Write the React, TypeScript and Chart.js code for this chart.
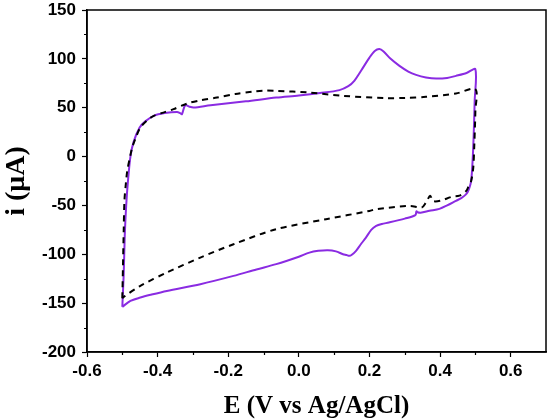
import { useEffect, useRef } from 'react';
import { Chart, registerables } from 'chart.js';

Chart.register(...registerables);

// Cyclic voltammogram: modified electrode (solid) and bare electrode (dashed)
const modifiedE = [
  -0.5, -0.496, -0.493, -0.489, -0.484, -0.477, -0.468, -0.451, -0.435, -0.411,
  -0.38, -0.345, -0.336, -0.331, -0.322, -0.31, -0.298, -0.25, -0.15, -0.064,
  0.0, 0.06, 0.115, 0.14, 0.157, 0.18, 0.2, 0.215, 0.228, 0.24,
  0.26, 0.285, 0.31, 0.332, 0.36, 0.389, 0.42, 0.445, 0.475, 0.5,
  0.498, 0.495, 0.492, 0.488, 0.482, 0.474, 0.46, 0.445, 0.42, 0.398,
  0.37, 0.345, 0.336, 0.333, 0.33, 0.3, 0.255, 0.235, 0.219, 0.205,
  0.19, 0.175, 0.162, 0.15, 0.143, 0.135, 0.125, 0.105, 0.082, 0.055,
  0.03, 0.0, -0.064, -0.12, -0.185, -0.279, -0.374, -0.42, -0.449, -0.477, -0.5,
];
const modifiedI = [
  -153.8, -120, -80, -50, -25, 0, 15, 29.7, 36, 41.7,
  44.5, 45.7, 44.5, 43.4, 52.6, 51, 50.2, 52.5, 56.5, 60.4,
  62.5, 65, 68, 72, 77.5, 90, 101.3, 108, 110, 107.5,
  100, 92.8, 87, 83.6, 81, 79.8, 80.5, 82.6, 85.5, 89.4,
  57, 20, -5, -24.9, -33, -38.5, -42.5, -45.3, -50, -53.5,
  -55.5, -57.5, -57, -56, -60, -63.5, -67.5, -69, -71, -75,
  -82.9, -90, -96.5, -100.5, -101.6, -100.8, -99.9, -97, -95.8, -96.5,
  -98.3, -102.5, -110.1, -115.5, -122.1, -130.6, -137.5, -141.5, -144.3, -147.7, -153.8,
];

const bareE = [
  -0.5, -0.498, -0.496, -0.494, -0.49, -0.486, -0.479, -0.472, -0.46, -0.449,
  -0.43, -0.411, -0.38, -0.355, -0.317, -0.28, -0.232, -0.18, -0.13, -0.1,
  -0.064, 0.03, 0.125, 0.247, 0.3, 0.36, 0.445, 0.5,
  0.5, 0.497, 0.494, 0.488, 0.48, 0.474, 0.455, 0.433, 0.4, 0.38,
  0.372, 0.36, 0.348, 0.315, 0.219, 0.2, 0.077, -0.064, -0.185, -0.279,
  -0.374, -0.449, -0.496, -0.5,
];
const bareI = [
  -145, -110, -75, -45.3, -28, -14.6, -2, 9.2, 21, 29.7,
  37, 41.7, 45.5, 48.5, 54.2, 57.5, 60.4, 64, 66.5, 67.5,
  67.2, 65.5, 62.1, 59.8, 60, 61.1, 64.5, 69,
  46.8, 12.7, -11.3, -24.9, -31, -35.1, -40, -41.2, -45.3, -45.5,
  -40.2, -47, -52.2, -50.5, -53.8, -55.6, -64.1, -74.3, -89.7, -103.4,
  -118.7, -132.3, -143.6, -145,
];

const xMin = -0.6;
const xMax = 0.7;
const xStep = 0.1;
const yMin = -200;
const yMax = 150;
const yStep = 25;

const toPoints = (xs: number[], ys: number[]) => xs.map((x, i) => ({ x, y: ys[i] }));

const isMajorX = (v: number) => Math.round(v * 10) % 2 === 0 && Math.round(v * 10) <= 6;
const isMajorY = (v: number) => Math.round(v) % 50 === 0;

// Closed plot frame plus short minor tick marks
const framePlugin = {
  id: 'frame',
  afterDraw(chart: any) {
    const { ctx, chartArea, scales } = chart;
    ctx.save();
    ctx.strokeStyle = '#000';
    ctx.lineWidth = 1.5;
    ctx.strokeRect(chartArea.left, chartArea.top, chartArea.right - chartArea.left, chartArea.bottom - chartArea.top);
    ctx.lineWidth = 1.2;
    ctx.beginPath();
    scales.x.ticks.forEach((t: any) => {
      if (!isMajorX(t.value) && t.value < xMax - 0.05) {
        const px = Math.round(scales.x.getPixelForValue(t.value)) + 0.5;
        ctx.moveTo(px, chartArea.bottom);
        ctx.lineTo(px, chartArea.bottom + 3);
      }
    });
    scales.y.ticks.forEach((t: any) => {
      if (!isMajorY(t.value)) {
        const py = Math.round(scales.y.getPixelForValue(t.value)) + 0.5;
        ctx.moveTo(chartArea.left, py);
        ctx.lineTo(chartArea.left - 3, py);
      }
    });
    ctx.stroke();
    ctx.restore();
  },
};

export default function App() {
  const canvasRef = useRef<HTMLCanvasElement | null>(null);

  useEffect(() => {
    const canvas = canvasRef.current;
    if (!canvas) return;
    const tickFont = { family: '"Liberation Sans", Arial, sans-serif', size: 17, weight: 'bold' as const };
    const chart = new Chart(canvas, {
      type: 'scatter',
      data: {
        datasets: [
          {
            data: toPoints(bareE, bareI),
            showLine: true,
            borderColor: '#000000',
            borderWidth: 2,
            borderDash: [6, 5],
            pointRadius: 0,
            tension: 0.3,
            fill: false,
          },
          {
            data: toPoints(modifiedE, modifiedI),
            showLine: true,
            borderColor: '#8A2BE2',
            borderWidth: 2,
            pointRadius: 0,
            tension: 0.3,
            fill: false,
          },
        ],
      },
      options: {
        responsive: false,
        animation: false,
        devicePixelRatio: 1,
        layout: { padding: { top: 10, right: 6, bottom: 0, left: 0 } },
        plugins: { legend: { display: false }, tooltip: { enabled: false } },
        scales: {
          x: {
            type: 'linear',
            min: xMin,
            max: xMax,
            afterFit: (scale: any) => {
              scale.height = 68;
              scale.paddingLeft = 0;
              scale.paddingRight = 0;
            },
            border: { display: true, color: '#000', width: 1.5 },
            grid: {
              drawOnChartArea: false,
              drawTicks: true,
              tickLength: 5,
              tickWidth: 1.2,
              tickColor: (ctx: any) => (ctx.tick && isMajorX(ctx.tick.value) ? '#000' : 'rgba(0,0,0,0)'),
            },
            ticks: {
              stepSize: xStep,
              autoSkip: false,
              maxRotation: 0,
              padding: 4,
              color: '#000',
              font: tickFont,
              callback: (v: any) => (isMajorX(Number(v)) ? Number(v).toFixed(1) : ''),
            },
            title: {
              display: true,
              text: 'E (V vs Ag/AgCl)',
              color: '#000',
              padding: 0,
              font: { family: '"Liberation Serif", "Times New Roman", serif', size: 25, weight: 'bold', lineHeight: 1.08 },
            },
          },
          y: {
            type: 'linear',
            min: yMin,
            max: yMax,
            afterFit: (scale: any) => {
              scale.width = 87;
              scale.paddingTop = 0;
              scale.paddingBottom = 0;
            },
            border: { display: true, color: '#000', width: 1.5 },
            grid: {
              drawOnChartArea: false,
              drawTicks: true,
              tickLength: 5,
              tickWidth: 1.2,
              tickColor: (ctx: any) => (ctx.tick && isMajorY(ctx.tick.value) ? '#000' : 'rgba(0,0,0,0)'),
            },
            ticks: {
              stepSize: yStep,
              autoSkip: false,
              padding: 6,
              color: '#000',
              font: tickFont,
              callback: (v: any) => (isMajorY(Number(v)) ? String(Math.round(Number(v))) : ''),
            },
            title: {
              display: true,
              text: 'i (μA)',
              color: '#000',
              padding: 0,
              font: { family: '"Liberation Serif", "Times New Roman", serif', size: 28, weight: 'bold', lineHeight: 1.2 },
            },
          },
        },
      },
      plugins: [framePlugin],
    });
    return () => chart.destroy();
  }, []);

  return (
    <div style={{ position: 'absolute', left: 0, top: 0, width: 552, height: 420, background: '#fff' }}>
      <canvas ref={canvasRef} width={552} height={420} style={{ display: 'block' }} />
    </div>
  );
}
